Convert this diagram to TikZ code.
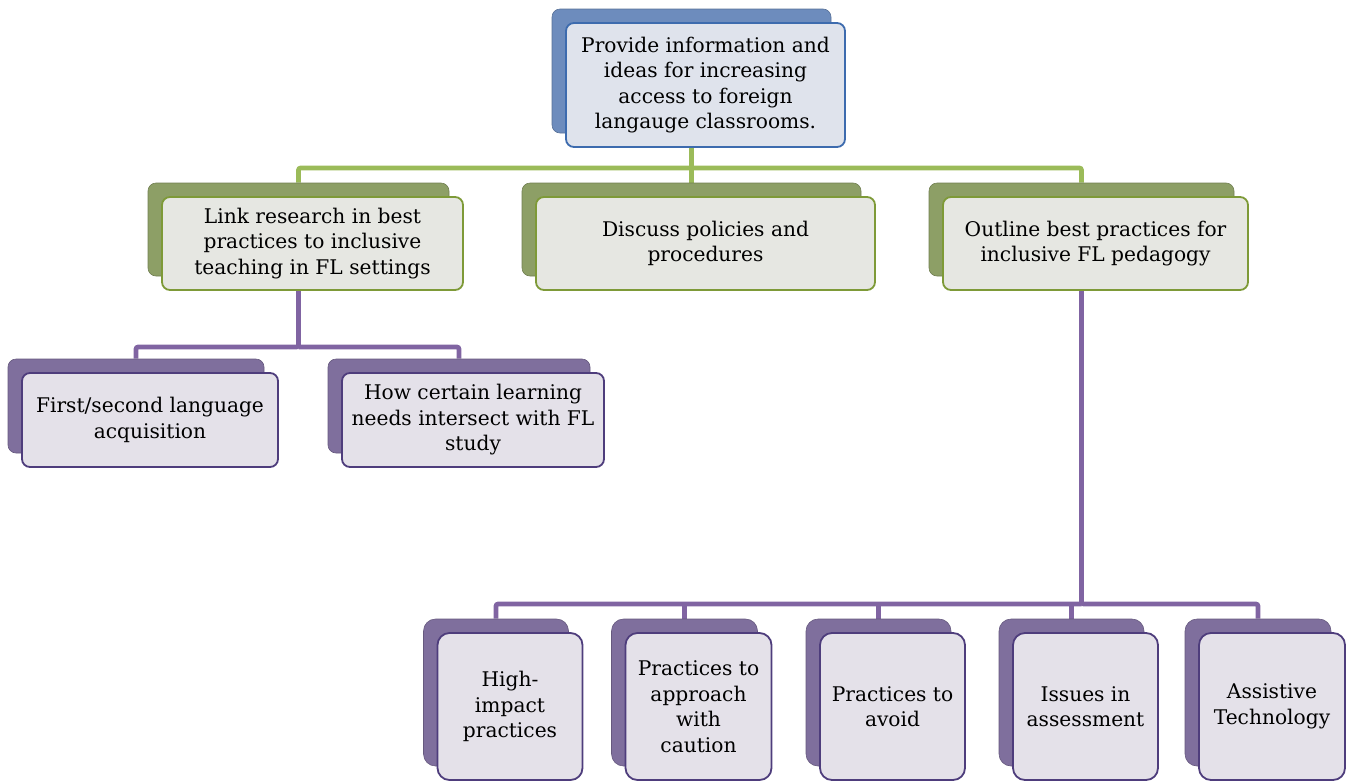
\documentclass[tikz,border=0pt]{standalone}
\usepackage{fontspec}
\setmainfont{DejaVu Serif}
\usetikzlibrary{backgrounds}
\definecolor{gline}{HTML}{9BBB59}
\definecolor{pline}{HTML}{8064A2}
\definecolor{gback}{HTML}{8D9F66}
\definecolor{pback}{HTML}{7F6F9D}
\definecolor{bback}{HTML}{6D8CBD}
\definecolor{gedge}{HTML}{7E9A38}
\definecolor{pedge}{HTML}{4E3D7C}
\definecolor{bedge}{HTML}{3D6BAE}
\definecolor{gfill}{HTML}{E6E7E2}
\definecolor{pfill}{HTML}{E4E1E9}
\definecolor{bfill}{HTML}{DFE3EC}
\tikzset{
  card/.style={rounded corners=8pt, inner sep=0pt, align=center,
    font=\fontsize{20.2}{25.5}\selectfont},
  back/.style={card, fill=#1, draw=#1!80!black, line width=0.6pt},
  front/.style={card, draw=#1, line width=1.8pt},
  tall/.style={rounded corners=12pt},
  wire/.style={line width=4.6pt, rounded corners=2pt}
}
\begin{document}
\begin{tikzpicture}[x=1pt,y=-1pt]
  \useasboundingbox (0,0) rectangle (1346,782);
  % top box
  \node[back=bback, minimum width=279pt, minimum height=124pt] (topb) at (691.5,71) {};
  \node[front=bedge, fill=bfill, minimum width=279pt, minimum height=124pt] (top) at (705.5,85)
    {Provide information and\\ideas for increasing\\access to foreign\\langauge classrooms.};
  % second row
  \node[back=gback, minimum width=301pt, minimum height=93pt] (g1b) at (298.5,229.5) {};
  \node[front=gedge, fill=gfill, minimum width=301pt, minimum height=93pt] (g1) at (312.5,243.5)
    {Link research in best\\practices to inclusive\\teaching in FL settings};
  \node[back=gback, minimum width=339pt, minimum height=93pt] (g2b) at (691.5,229.5) {};
  \node[front=gedge, fill=gfill, minimum width=339pt, minimum height=93pt] (g2) at (705.5,243.5)
    {Discuss policies and\\procedures};
  \node[back=gback, minimum width=305pt, minimum height=93pt] (g3b) at (1081.5,229.5) {};
  \node[front=gedge, fill=gfill, minimum width=305pt, minimum height=93pt] (g3) at (1095.5,243.5)
    {Outline best practices for\\inclusive FL pedagogy};
  % third row, left
  \node[back=pback, minimum width=256pt, minimum height=94pt] (p1b) at (136,406) {};
  \node[front=pedge, fill=pfill, minimum width=256pt, minimum height=94pt] (p1) at (150,420)
    {First/second language\\acquisition};
  \node[back=pback, minimum width=262pt, minimum height=94pt] (p2b) at (459,406) {};
  \node[front=pedge, fill=pfill, minimum width=262pt, minimum height=94pt] (p2) at (473,420)
    {How certain learning\\needs intersect with FL\\study};
  % bottom row
  \node[back=pback, tall, minimum width=145pt, minimum height=147pt] (b1b) at (496,692.5) {};
  \node[front=pedge, tall, fill=pfill, minimum width=145pt, minimum height=147pt] (b1) at (510,706.5)
    {High-\\impact\\practices};
  \node[back=pback, tall, minimum width=146pt, minimum height=147pt] (b2b) at (684.5,692.5) {};
  \node[front=pedge, tall, fill=pfill, minimum width=146pt, minimum height=147pt] (b2) at (698.5,706.5)
    {Practices to\\approach\\with\\caution};
  \node[back=pback, tall, minimum width=145pt, minimum height=147pt] (b3b) at (878.5,692.5) {};
  \node[front=pedge, tall, fill=pfill, minimum width=145pt, minimum height=147pt] (b3) at (892.5,706.5)
    {Practices to\\avoid};
  \node[back=pback, tall, minimum width=145pt, minimum height=147pt] (b4b) at (1071.5,692.5) {};
  \node[front=pedge, tall, fill=pfill, minimum width=145pt, minimum height=147pt] (b4) at (1085.5,706.5)
    {Issues in\\assessment};
  \node[back=pback, tall, minimum width=146pt, minimum height=147pt] (b5b) at (1258,692.5) {};
  \node[front=pedge, tall, fill=pfill, minimum width=146pt, minimum height=147pt] (b5) at (1272,706.5)
    {Assistive\\Technology};
  % connectors
  \coordinate (gbus) at (0,168);
  \coordinate (pbus) at (0,347);
  \coordinate (qbus) at (0,604);
  \begin{scope}[on background layer]
    \draw[wire, gline] (topb.south) -- (g2b.north);
    \draw[wire, gline] (topb.south |- gbus) -| (g1b.north);
    \draw[wire, gline] (topb.south |- gbus) -| (g3b.north);
    \draw[wire, pline] (g1b.south) -- (g1b.south |- pbus) -| (p1b.north);
    \draw[wire, pline] (g1b.south |- pbus) -| (p2b.north);
    \draw[wire, pline] (g3b.south) -- (g3b.south |- qbus) -| (b5b.north);
    \draw[wire, pline] (g3b.south |- qbus) -| (b1b.north);
    \draw[wire, pline] (b2b.north |- qbus) -- (b2b.north);
    \draw[wire, pline] (b3b.north |- qbus) -- (b3b.north);
    \draw[wire, pline] (b4b.north |- qbus) -- (b4b.north);
  \end{scope}
\end{tikzpicture}
\end{document}
